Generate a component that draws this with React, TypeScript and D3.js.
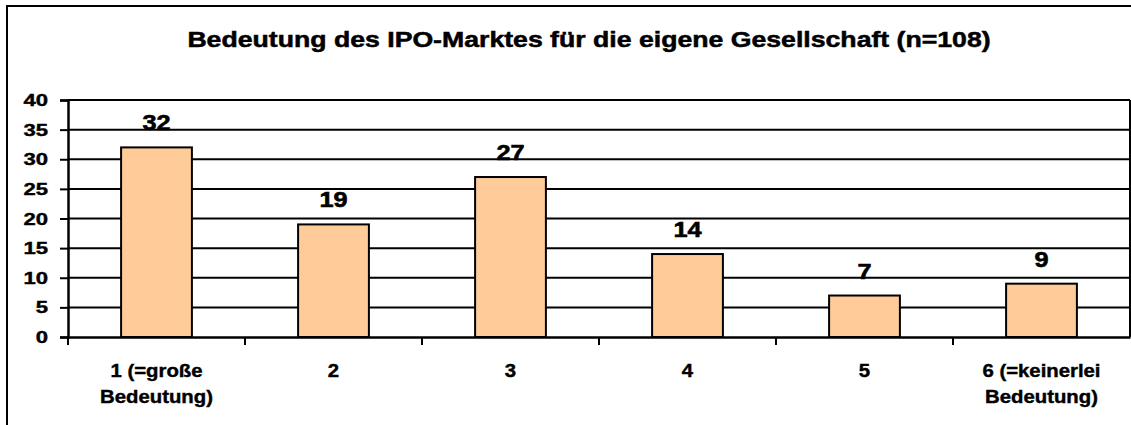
import React, { useEffect, useRef } from "react";
import * as d3 from "d3";

const categories = ["1 (=große|Bedeutung)", "2", "3", "4", "5", "6 (=keinerlei|Bedeutung)"];
const values = [32, 19, 27, 14, 7, 9];
const yTicks = [0, 5, 10, 15, 20, 25, 30, 35, 40];
const title = "Bedeutung des IPO-Marktes für die eigene Gesellschaft (n=108)";

const W = 1131;
const H = 425;
const font = "Arial, 'Liberation Sans', sans-serif";

export default function App() {
  const svgRef = useRef<SVGSVGElement>(null);

  useEffect(() => {
    const svg = d3.select(svgRef.current);
    svg.selectAll("*").remove();

    const left = 68, right = 1130, top = 100, bottom = 337;

    const x = d3.scaleBand().domain(categories).range([left, right]).paddingInner(0.6).paddingOuter(0.3);
    const xOuter = d3.scaleBand().domain(categories).range([left, right]);
    const y = d3.scaleLinear().domain([0, 40]).range([bottom, top]);

    // outer frame
    svg.append("rect")
      .attr("x", 7).attr("y", 6).attr("width", W + 10).attr("height", H + 10)
      .attr("fill", "white").attr("stroke", "black").attr("stroke-width", 2);

    // text in the original is stretched horizontally and a bit heavier
    svg.append("text")
      .attr("transform", "translate(589,47) scale(1.24,1)")
      .attr("text-anchor", "middle")
      .attr("stroke", "black").attr("stroke-width", 0.5)
      .style("font", `bold 21.5px ${font}`)
      .text(title);

    // gridlines
    svg.append("g")
      .selectAll("line")
      .data(yTicks.filter(t => t > 0))
      .join("line")
      .attr("x1", left).attr("x2", right)
      .attr("y1", d => y(d)).attr("y2", d => y(d))
      .attr("stroke", "black").attr("stroke-width", 2);

    svg.append("line")
      .attr("x1", right).attr("x2", right).attr("y1", top).attr("y2", bottom)
      .attr("stroke", "black").attr("stroke-width", 2);

    // bars
    svg.append("g")
      .selectAll("rect")
      .data(values)
      .join("rect")
      .attr("x", (d, i) => x(categories[i])!)
      .attr("width", x.bandwidth())
      .attr("y", d => y(d))
      .attr("height", d => y(0) - y(d))
      .attr("fill", "#FFCC99")
      .attr("stroke", "black")
      .attr("stroke-width", 2);

    // value labels
    svg.append("g")
      .selectAll("text")
      .data(values)
      .join("text")
      .attr("transform", (d, i) => `translate(${x(categories[i])! + x.bandwidth() / 2},${y(d) - 17}) scale(1.15,1)`)
      .attr("text-anchor", "middle")
      .attr("stroke", "black").attr("stroke-width", 0.6)
      .style("font", `bold 22px ${font}`)
      .text(d => d);

    // y axis
    const yAxis = svg.append("g")
      .attr("transform", `translate(${left},0)`)
      .call(d3.axisLeft(y).tickValues(yTicks).tickSize(8).tickFormat(() => ""));
    yAxis.select(".domain").attr("stroke-width", 2.5);
    yAxis.selectAll(".tick line").attr("stroke-width", 2);

    svg.append("g")
      .selectAll("text")
      .data(yTicks)
      .join("text")
      .attr("transform", d => `translate(48,${y(d) + 6}) scale(1.3,1)`)
      .attr("text-anchor", "end")
      .attr("stroke", "black").attr("stroke-width", 0.4)
      .style("font", `bold 17px ${font}`)
      .text(d => d);

    // x axis
    const xAxis = svg.append("g")
      .attr("transform", `translate(0,${bottom})`)
      .call(d3.axisBottom(xOuter).tickSize(0).tickFormat(() => ""));
    xAxis.select(".domain").attr("stroke-width", 2.5);
    xAxis.selectAll(".tick").remove();

    svg.append("g")
      .selectAll("line")
      .data(categories)
      .join("line")
      .attr("x1", d => xOuter(d)!).attr("x2", d => xOuter(d)!)
      .attr("y1", bottom).attr("y2", bottom + 8)
      .attr("stroke", "black").attr("stroke-width", 2);

    // category labels, two lines
    const cat = svg.append("g")
      .selectAll("g")
      .data(categories)
      .join("g")
      .attr("transform", d => `translate(${xOuter(d)! + xOuter.bandwidth() / 2},0) scale(1.13,1)`);
    cat.selectAll("text")
      .data(d => d.split("|"))
      .join("text")
      .attr("x", 0)
      .attr("y", (d, i) => 377 + i * 26)
      .attr("text-anchor", "middle")
      .attr("stroke", "black").attr("stroke-width", 0.4)
      .style("font", `bold 18px ${font}`)
      .text(d => d);
  }, []);

  return (
    <div style={{ position: "fixed", left: 0, top: 0, width: W, height: H, background: "white" }}>
      <svg ref={svgRef} width={W} height={H} />
    </div>
  );
}
